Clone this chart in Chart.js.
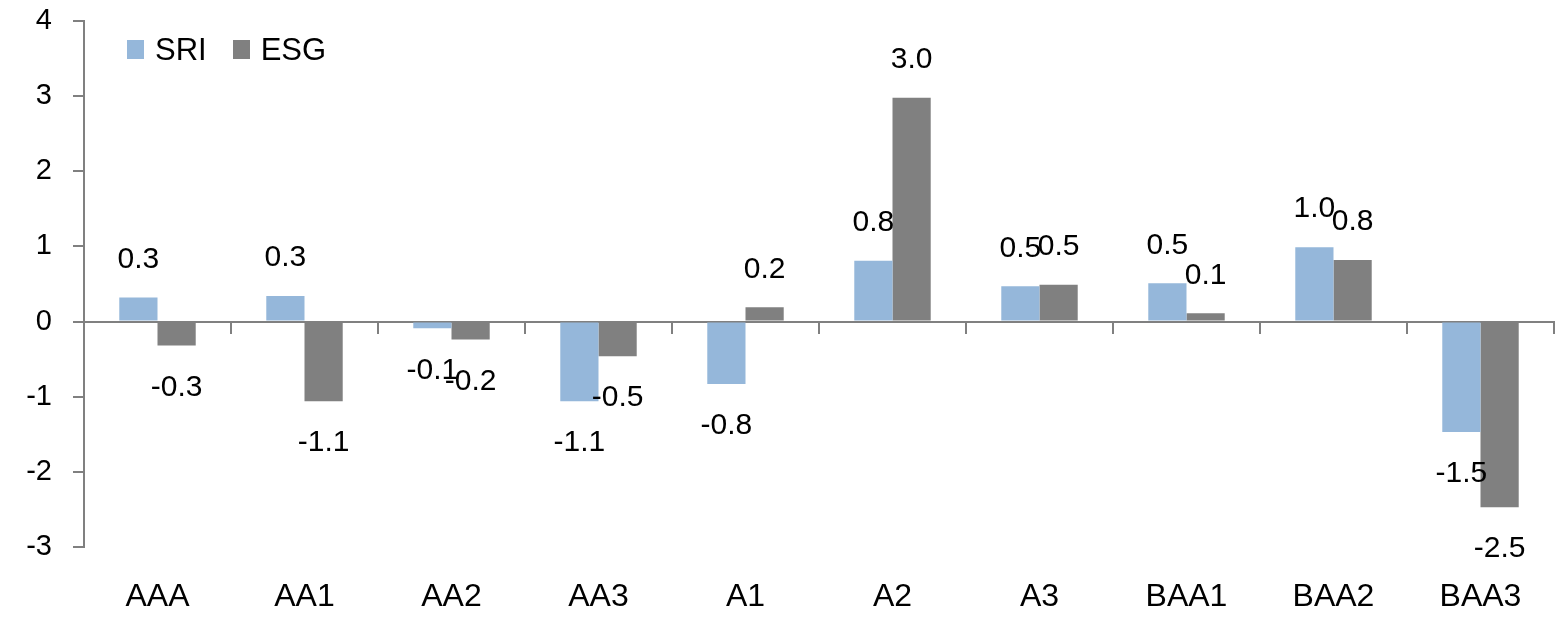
<!DOCTYPE html>
<html>
<head>
  <meta charset="utf-8">
  <script src="https://cdn.jsdelivr.net/npm/chart.js"></script>
  <style>
    html, body { margin: 0; padding: 0; background: #fff; }
    .chart-container { position: relative; width: 1559px; height: 621px; }
    #legend { position: absolute; left: 127px; top: 29px; font: 31px 'Liberation Sans', Arial, sans-serif; color: #000; }
    #legend span { display: inline-block; vertical-align: middle; }
    #legend .box { width: 17px; height: 19px; margin-right: 11px; }
    #legend .item { margin-right: 26px; }
  </style>
</head>
<body>
  <div class="chart-container">
    <canvas id="myBarChart"></canvas>
    <div id="legend"></div>
  </div>
<script>
"use strict";
const categories = ['AAA', 'AA1', 'AA2', 'AA3', 'A1', 'A2', 'A3', 'BAA1', 'BAA2', 'BAA3'];
const sriValues = [0.32, 0.34, -0.09, -1.06, -0.83, 0.81, 0.47, 0.51, 0.99, -1.47];
const esgValues = [-0.32, -1.06, -0.24, -0.46, 0.19, 2.98, 0.49, 0.11, 0.82, -2.47];
const yTicks = [-3, -2, -1, 0, 1, 2, 3, 4];

const gray = '#808080';
const sans = "'Liberation Sans', Arial, sans-serif";

// value labels 40px beyond the end of each bar
const valueLabels = {
  id: 'valueLabels',
  afterDatasetsDraw(chart) {
    const c = chart.ctx;
    c.save();
    c.font = '30px ' + sans;
    c.fillStyle = '#000';
    c.textAlign = 'center';
    c.textBaseline = 'middle';
    chart.data.datasets.forEach((ds, i) => {
      chart.getDatasetMeta(i).data.forEach((bar, j) => {
        const v = ds.data[j];
        const y = v >= 0 ? bar.y - 38 : bar.y + 42;
        c.fillText(v.toFixed(1), bar.x, y);
      });
    });
    c.restore();
  }
};

const chart = new Chart(document.getElementById('myBarChart'), {
  type: 'bar',
  data: {
    labels: categories,
    datasets: [
      { label: 'SRI', data: sriValues, backgroundColor: '#95B7DA' },
      { label: 'ESG', data: esgValues, backgroundColor: gray }
    ]
  },
  options: {
    responsive: true,
    maintainAspectRatio: false,
    animation: false,
    categoryPercentage: 0.52,
    barPercentage: 1,
    layout: { padding: { top: 21, right: 5, bottom: 0, left: 0 } },
    plugins: {
      legend: { display: false },
      tooltip: { enabled: false }
    },
    scales: {
      x: {
        position: 'bottom',
        grid: { display: false },
        border: { display: false },
        ticks: { font: { family: sans, size: 32 }, color: '#000', padding: 23 },
        afterFit: s => { s.height = 74; s.paddingLeft = 0; s.paddingRight = 0; }
      },
      x2: {
        type: 'category',
        labels: categories,
        position: { y: 0 },
        grid: { offset: true, drawOnChartArea: false, tickLength: 11, color: gray, lineWidth: 2 },
        border: { display: true, color: gray, width: 2 },
        ticks: { display: false },
        afterFit: s => { s.height = 0; s.paddingLeft = 0; s.paddingRight = 0; s.paddingTop = 0; s.paddingBottom = 0; }
      },
      y: {
        min: -3,
        max: 4,
        afterBuildTicks: s => { s.ticks = yTicks.map(v => ({ value: v })); },
        grid: { drawOnChartArea: false, tickLength: 11, color: gray, lineWidth: 2 },
        border: { display: true, color: gray, width: 2 },
        ticks: { font: { family: sans, size: 29 }, color: '#000', padding: 21 },
        afterFit: s => { s.width = 84; s.paddingTop = 0; s.paddingBottom = 0; }
      }
    }
  },
  plugins: [valueLabels]
});

// legend drawn as html in the top-left of the plot
const legend = document.getElementById('legend');
chart.data.datasets.forEach(ds => {
  const item = document.createElement('span');
  item.className = 'item';
  item.innerHTML = '<span class="box" style="background:' + ds.backgroundColor + '"></span><span>' + ds.label + '</span>';
  legend.appendChild(item);
});
</script>
</body>
</html>
